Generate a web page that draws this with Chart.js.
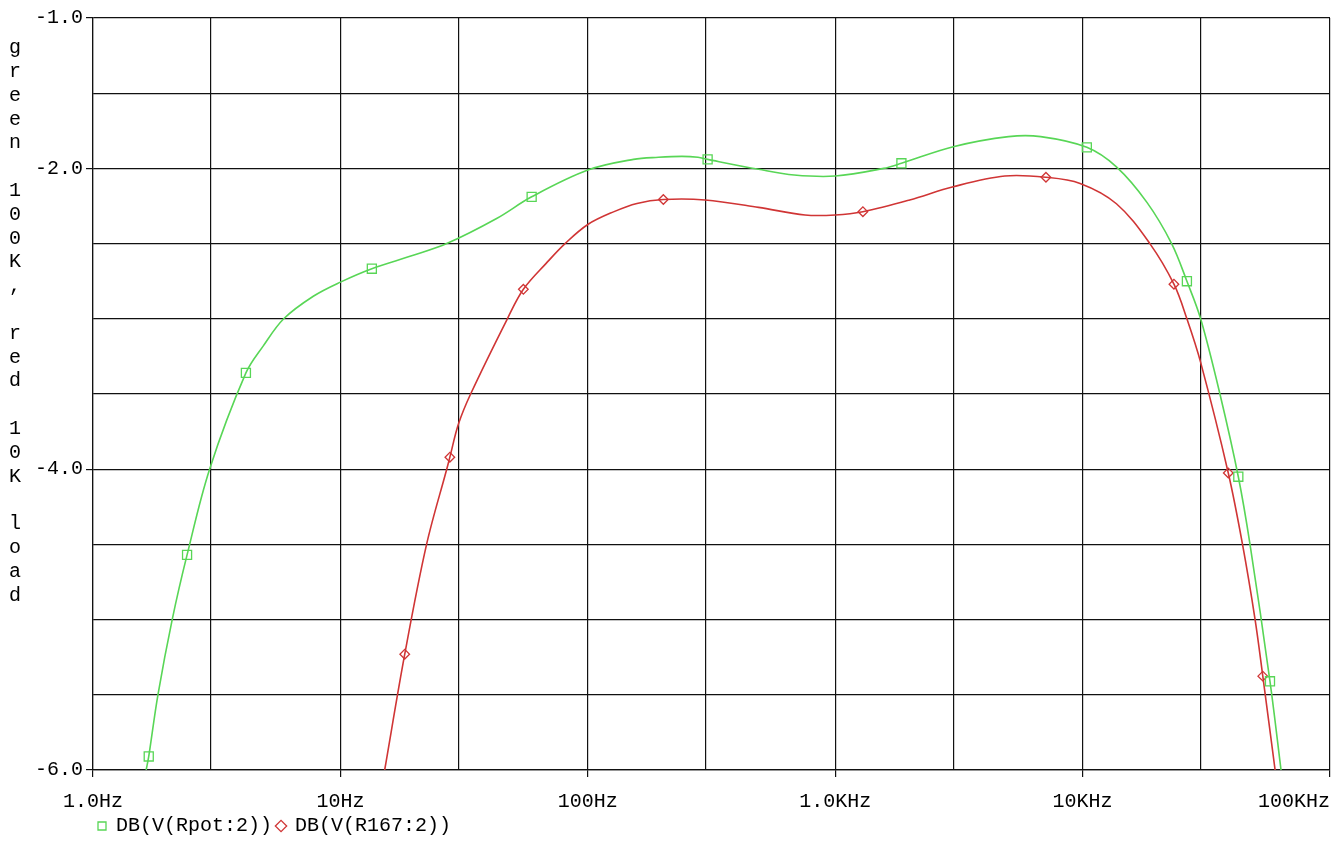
<!DOCTYPE html>
<html lang="en">
<head>
<meta charset="UTF-8">
<title>DB(V) frequency response</title>
<script src="https://cdn.jsdelivr.net/npm/chart.js@4.4.1/dist/chart.umd.min.js"></script>
<style>
  body { margin: 0; background: #fff; overflow: hidden; }
  .wrap { width: 1336px; height: 846px; position: relative; }
</style>
</head>
<body>
<div class="wrap"><canvas id="bode"></canvas></div>
<script>
  // values: frequency in Hz, level in dB
  const greenFreq = [1.64, 1.68, 1.83, 2.09, 2.40, 2.96, 4.15, 4.88, 5.9, 7.77, 10, 13.4, 19.7, 26.9, 42.8, 59.3,
    100, 153, 193, 240, 279, 305, 490, 683, 1000, 1570, 1852, 3000, 5020, 6770, 10400, 13700, 18200,
    22900, 26400, 30000, 35900, 42600, 47500, 57200, 63400];
  const greenDb = [-6.0, -5.91, -5.5, -5.0, -4.57, -4.0, -3.36, -3.18, -3.0, -2.85, -2.756, -2.667, -2.578, -2.5, -2.333, -2.189,
    -2.011, -1.94, -1.926, -1.92, -1.926, -1.94, -2.006, -2.044, -2.051, -2.0, -1.966, -1.856, -1.789, -1.789, -1.86, -1.99, -2.226,
    -2.5, -2.75, -3.0, -3.5, -4.05, -4.5, -5.41, -6.0];
  const greenMarks = [1, 4, 6, 11, 15, 21, 26, 30, 34, 37, 39];

  const redFreq = [15.1, 18.2, 22.3, 26.9, 27.7, 30, 33.6, 47.3, 54.9, 68, 80.9, 100, 127, 158, 202, 298,
    490, 755, 1000, 1294, 2000, 3000, 4850, 7110, 9770, 13700, 18700, 23400, 26400, 30000, 38800,
    44300, 49800, 53500, 60000];
  const redDb = [-6.0, -5.23, -4.5, -4.0, -3.92, -3.70, -3.5, -3.0, -2.804, -2.63, -2.5, -2.373, -2.289, -2.233, -2.207, -2.21,
    -2.259, -2.31, -2.31, -2.288, -2.21, -2.122, -2.051, -2.059, -2.10, -2.235, -2.5, -2.77, -3.0, -3.29, -4.025,
    -4.5, -5.0, -5.376, -6.0];
  const redMarks = [1, 4, 8, 14, 19, 23, 27, 30, 33];

  const xGrid = [1, 3, 10, 30, 100, 300, 1000, 3000, 10000, 30000, 100000];
  const xTickValues = [1, 10, 100, 1000, 10000, 100000];
  const xTickLabels = ['1.0Hz', '10Hz', '100Hz', '1.0KHz', '10KHz', '100KHz      '];
  const yTickValues = [-1, -2, -4, -6];
  const yTitle = 'green 100K, red 10K load';

  const green = '#58d656';
  const red = '#d03535';
  const monoFont = { family: '"Liberation Mono", monospace', size: 20 };

  // y title is stacked one letter per line, like the original plot
  const yTitlePlugin = {
    id: 'yTitle',
    afterDraw(chart) {
      const ctx = chart.ctx;
      ctx.save();
      ctx.font = '20px "Liberation Mono", monospace';
      ctx.fillStyle = '#000';
      ctx.textAlign = 'center';
      ctx.textBaseline = 'middle';
      [...yTitle].forEach((ch, i) => ctx.fillText(ch, 15, 48 + i * 23.8));
      ctx.restore();
    }
  };

  function series(label, freq, db, marks, color, style, size) {
    return {
      label: label,
      data: freq.map((f, i) => ({ x: f, y: db[i] })),
      borderColor: color,
      borderWidth: 1.6,
      backgroundColor: 'transparent',
      pointStyle: style,
      pointRadius: ctx => marks.includes(ctx.dataIndex) ? size : 0,
      pointHoverRadius: 0,
      pointBorderColor: color,
      pointBackgroundColor: 'transparent',
      pointBorderWidth: 1.3,
      tension: 0.35,
      fill: false
    };
  }

  new Chart('bode', {
    type: 'line',
    data: {
      datasets: [
        series('DB(V(Rpot:2))', greenFreq, greenDb, greenMarks, green, 'rect', 6.4),
        series('DB(V(R167:2))', redFreq, redDb, redMarks, red, 'rectRot', 4.8)
      ]
    },
    options: {
      responsive: true,
      maintainAspectRatio: false,
      animation: false,
      layout: { padding: { left: 30, right: 6, top: 18, bottom: 0 } },
      scales: {
        x: {
          type: 'logarithmic',
          min: 1,
          max: 100000,
          afterBuildTicks: scale => { scale.ticks = xGrid.map(v => ({ value: v })); },
          afterFit: scale => { scale.height = 41; scale.paddingLeft = 0; scale.paddingRight = 0; },
          ticks: {
            autoSkip: false,
            maxRotation: 0,
            padding: 13,
            color: '#000',
            font: monoFont,
            callback: v => {
              const i = xTickValues.indexOf(v);
              return i >= 0 ? xTickLabels[i] : '';
            }
          },
          grid: {
            color: '#111',
            lineWidth: 1.2,
            tickLength: 7,
            tickColor: ctx => xTickValues.includes(ctx.tick.value) ? '#111' : 'transparent'
          },
          border: { color: '#111', width: 1.2 }
        },
        y: {
          min: -6,
          max: -1,
          afterFit: scale => { scale.width = 63; scale.paddingTop = 0; scale.paddingBottom = 0; },
          ticks: {
            stepSize: 0.5,
            padding: 3,
            color: '#000',
            font: monoFont,
            callback: v => yTickValues.includes(v) ? v.toFixed(1) : ''
          },
          grid: {
            color: '#111',
            lineWidth: 1.2,
            tickLength: 7,
            tickColor: ctx => yTickValues.includes(ctx.tick.value) ? '#111' : 'transparent'
          },
          border: { color: '#111', width: 1.2 }
        }
      },
      plugins: {
        legend: {
          position: 'bottom',
          align: 'start',
          fullSize: false,
          labels: {
            usePointStyle: true,
            boxWidth: 8,
            boxHeight: 8,
            padding: 5,
            color: '#000',
            font: monoFont
          }
        },
        tooltip: { enabled: false }
      }
    },
    plugins: [yTitlePlugin]
  });
</script>
</body>
</html>
